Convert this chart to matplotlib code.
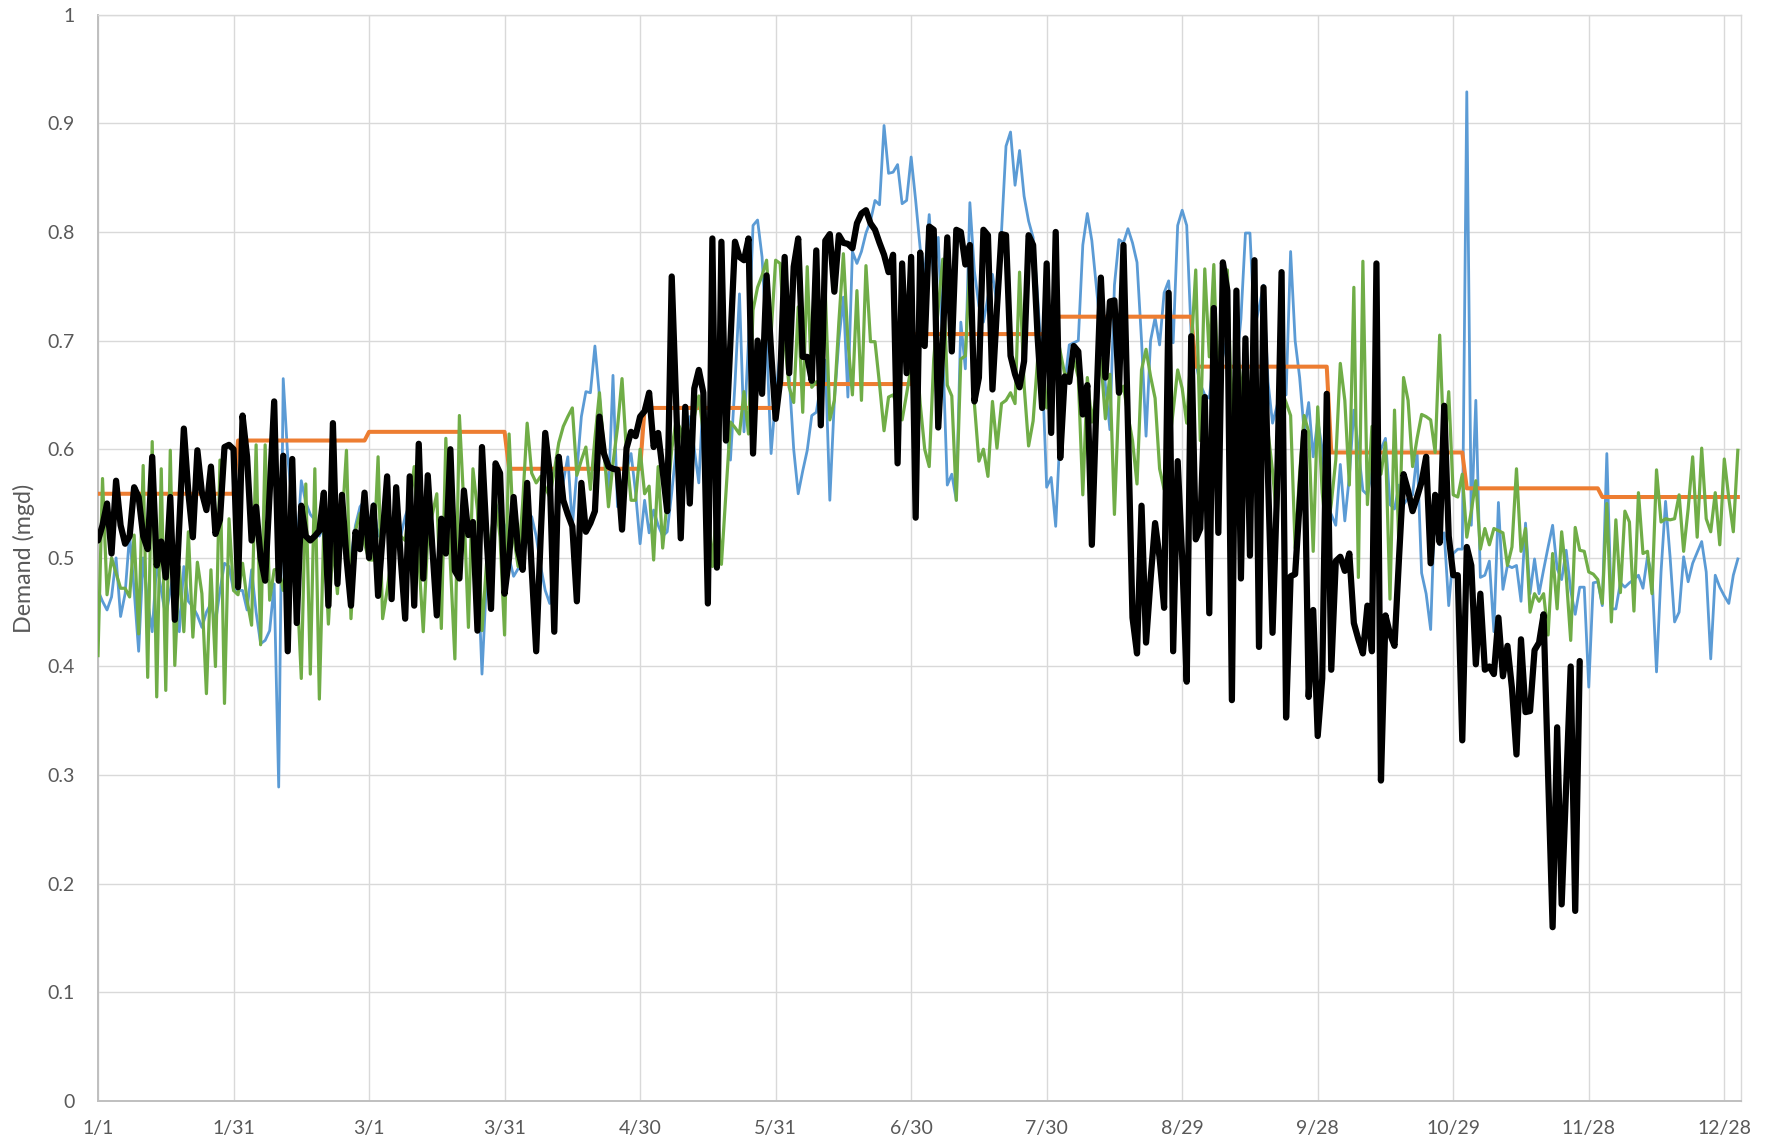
import numpy as np
import matplotlib
matplotlib.use("Agg")
import matplotlib.pyplot as plt

# ---------------- data ----------------
x_tick_labels = ['1/1', '1/31', '3/1', '3/31', '4/30', '5/31', '6/30', '7/30',
                 '8/29', '9/28', '10/29', '11/28', '12/28']
y_tick_labels = ['0', '0.1', '0.2', '0.3', '0.4', '0.5', '0.6', '0.7', '0.8', '0.9', '1']

# monthly average (orange) and number of daily points in each month
monthly_avg = [0.559, 0.608, 0.616, 0.582, 0.638, 0.660, 0.706, 0.722, 0.676, 0.597, 0.564, 0.556]
points_per_month = [31, 29, 31, 30, 30, 30, 31, 31, 30, 30, 30, 31]

blue = [
    0.47, 0.46, 0.452, 0.464, 0.50, 0.446, 0.467, 0.522, 0.47, 0.414,
    0.50, 0.46, 0.432, 0.495, 0.47, 0.446, 0.47, 0.492, 0.432, 0.492,
    0.46, 0.455, 0.447, 0.436, 0.45, 0.458, 0.44, 0.47, 0.495, 0.492,
    0.47, 0.47, 0.47, 0.452, 0.489, 0.45, 0.421, 0.424, 0.433, 0.476,
    0.289, 0.665, 0.593, 0.55, 0.507, 0.571, 0.551, 0.54, 0.535, 0.52,
    0.53, 0.50, 0.55, 0.52, 0.53, 0.51, 0.50, 0.53, 0.547, 0.553,
    0.53, 0.55, 0.52, 0.535, 0.54, 0.50, 0.53, 0.52, 0.538, 0.55,
    0.50, 0.56, 0.52, 0.54, 0.51, 0.49, 0.495, 0.52, 0.507, 0.53,
    0.50, 0.54, 0.53, 0.52, 0.50, 0.393, 0.479, 0.52, 0.55, 0.54,
    0.53, 0.50, 0.483, 0.49, 0.498, 0.52, 0.538, 0.52, 0.492, 0.47,
    0.458, 0.50, 0.547, 0.57, 0.593, 0.529, 0.58, 0.63, 0.653, 0.652,
    0.695, 0.649, 0.60, 0.558, 0.668, 0.547, 0.57, 0.58, 0.596, 0.56,
    0.513, 0.553, 0.523, 0.544, 0.53, 0.52, 0.524, 0.56, 0.60, 0.58,
    0.61, 0.63, 0.60, 0.569, 0.652, 0.60, 0.58, 0.60, 0.65, 0.62,
    0.59, 0.66, 0.743, 0.616, 0.70, 0.806, 0.811, 0.777, 0.70, 0.596,
    0.648, 0.69, 0.734, 0.667, 0.60, 0.559, 0.58, 0.599, 0.631, 0.634,
    0.66, 0.682, 0.553, 0.645, 0.70, 0.74, 0.648, 0.782, 0.771, 0.782,
    0.799, 0.81, 0.829, 0.825, 0.898, 0.854, 0.855, 0.862, 0.826, 0.829,
    0.869, 0.829, 0.785, 0.761, 0.816, 0.754, 0.795, 0.69, 0.567, 0.577,
    0.553, 0.717, 0.674, 0.827, 0.764, 0.732, 0.717, 0.74, 0.761, 0.734,
    0.80, 0.879, 0.892, 0.843, 0.875, 0.833, 0.81, 0.795, 0.74, 0.676,
    0.565, 0.574, 0.529, 0.618, 0.66, 0.696, 0.698, 0.70, 0.788, 0.817,
    0.792, 0.75, 0.707, 0.659, 0.618, 0.751, 0.793, 0.79, 0.803, 0.79,
    0.772, 0.70, 0.612, 0.70, 0.721, 0.696, 0.744, 0.755, 0.698, 0.806,
    0.82, 0.806, 0.704, 0.68, 0.66, 0.65, 0.647, 0.685, 0.66, 0.70,
    0.68, 0.64, 0.677, 0.72, 0.799, 0.799, 0.711, 0.73, 0.751, 0.662,
    0.624, 0.64, 0.66, 0.65, 0.782, 0.70, 0.666, 0.616, 0.643, 0.593,
    0.627, 0.60, 0.549, 0.54, 0.530, 0.586, 0.534, 0.575, 0.636, 0.60,
    0.562, 0.558, 0.58, 0.61, 0.60, 0.61, 0.549, 0.545, 0.567, 0.549,
    0.555, 0.558, 0.597, 0.486, 0.467, 0.434, 0.558, 0.512, 0.523, 0.456,
    0.504, 0.508, 0.508, 0.929, 0.53, 0.645, 0.482, 0.484, 0.497, 0.432,
    0.551, 0.471, 0.493, 0.491, 0.493, 0.46, 0.532, 0.467, 0.499, 0.467,
    0.489, 0.51, 0.53, 0.49, 0.48, 0.507, 0.47, 0.448, 0.473, 0.473,
    0.381, 0.477, 0.478, 0.456, 0.596, 0.453, 0.453, 0.477, 0.473, 0.477,
    0.48, 0.484, 0.472, 0.501, 0.484, 0.395, 0.487, 0.552, 0.501, 0.441,
    0.45, 0.501, 0.478, 0.495, 0.505, 0.515, 0.487, 0.407, 0.484, 0.473,
    0.465, 0.458, 0.484, 0.499,
]

green = [
    0.41, 0.573, 0.466, 0.50, 0.486, 0.472, 0.472, 0.464, 0.521, 0.43,
    0.585, 0.39, 0.607, 0.372, 0.582, 0.378, 0.599, 0.401, 0.492, 0.432,
    0.524, 0.427, 0.496, 0.467, 0.375, 0.489, 0.40, 0.59, 0.366, 0.536,
    0.47, 0.466, 0.495, 0.461, 0.438, 0.604, 0.42, 0.604, 0.461, 0.489,
    0.49, 0.47, 0.504, 0.51, 0.48, 0.389, 0.568, 0.393, 0.582, 0.37,
    0.531, 0.439, 0.513, 0.467, 0.53, 0.599, 0.444, 0.525, 0.541, 0.513,
    0.498, 0.498, 0.593, 0.444, 0.47, 0.50, 0.524, 0.52, 0.516, 0.55,
    0.584, 0.50, 0.432, 0.519, 0.54, 0.559, 0.435, 0.61, 0.495, 0.407,
    0.631, 0.547, 0.436, 0.582, 0.544, 0.433, 0.495, 0.52, 0.553, 0.519,
    0.429, 0.614, 0.52, 0.492, 0.55, 0.624, 0.578, 0.569, 0.575, 0.565,
    0.556, 0.58, 0.606, 0.621, 0.63, 0.638, 0.576, 0.59, 0.602, 0.563,
    0.61, 0.652, 0.60, 0.547, 0.587, 0.62, 0.665, 0.596, 0.553, 0.553,
    0.60, 0.559, 0.566, 0.498, 0.584, 0.509, 0.553, 0.60, 0.627, 0.618,
    0.584, 0.61, 0.63, 0.649, 0.615, 0.55, 0.492, 0.55, 0.494, 0.56,
    0.625, 0.62, 0.614, 0.653, 0.614, 0.728, 0.749, 0.76, 0.774, 0.706,
    0.774, 0.771, 0.70, 0.657, 0.643, 0.731, 0.634, 0.768, 0.657, 0.662,
    0.663, 0.745, 0.627, 0.645, 0.717, 0.78, 0.70, 0.65, 0.746, 0.645,
    0.769, 0.699, 0.699, 0.66, 0.617, 0.648, 0.65, 0.64, 0.627, 0.651,
    0.676, 0.70, 0.642, 0.60, 0.584, 0.683, 0.73, 0.775, 0.659, 0.649,
    0.553, 0.683, 0.686, 0.771, 0.642, 0.589, 0.60, 0.575, 0.644, 0.601,
    0.642, 0.645, 0.652, 0.642, 0.763, 0.659, 0.603, 0.626, 0.683, 0.69,
    0.638, 0.672, 0.713, 0.69, 0.669, 0.669, 0.683, 0.666, 0.558, 0.666,
    0.625, 0.65, 0.683, 0.628, 0.669, 0.54, 0.649, 0.658, 0.631, 0.608,
    0.568, 0.673, 0.692, 0.667, 0.647, 0.582, 0.563, 0.60, 0.635, 0.673,
    0.656, 0.624, 0.692, 0.765, 0.608, 0.766, 0.685, 0.77, 0.647, 0.765,
    0.765, 0.627, 0.696, 0.662, 0.627, 0.662, 0.662, 0.639, 0.627, 0.616,
    0.58, 0.532, 0.654, 0.643, 0.631, 0.509, 0.578, 0.631, 0.616, 0.506,
    0.639, 0.56, 0.52, 0.55, 0.59, 0.679, 0.645, 0.567, 0.749, 0.482,
    0.773, 0.549, 0.621, 0.60, 0.577, 0.606, 0.462, 0.636, 0.506, 0.666,
    0.645, 0.584, 0.61, 0.632, 0.63, 0.627, 0.597, 0.705, 0.597, 0.653,
    0.558, 0.556, 0.577, 0.519, 0.543, 0.571, 0.508, 0.527, 0.512, 0.527,
    0.525, 0.523, 0.493, 0.51, 0.582, 0.506, 0.527, 0.45, 0.467, 0.46,
    0.467, 0.429, 0.504, 0.453, 0.524, 0.484, 0.424, 0.528, 0.507, 0.506,
    0.487, 0.485, 0.48, 0.458, 0.55, 0.441, 0.535, 0.468, 0.543, 0.533,
    0.451, 0.56, 0.504, 0.506, 0.467, 0.581, 0.533, 0.536, 0.535, 0.536,
    0.558, 0.506, 0.545, 0.593, 0.519, 0.601, 0.536, 0.524, 0.56, 0.512,
    0.591, 0.555, 0.524, 0.599,
]

black = [
    0.516, 0.53, 0.55, 0.504, 0.571, 0.53, 0.513, 0.52, 0.565, 0.556,
    0.52, 0.508, 0.593, 0.493, 0.515, 0.482, 0.556, 0.443, 0.53, 0.619,
    0.56, 0.519, 0.599, 0.56, 0.544, 0.584, 0.522, 0.535, 0.602, 0.604,
    0.60, 0.473, 0.631, 0.593, 0.516, 0.547, 0.50, 0.479, 0.56, 0.644,
    0.479, 0.594, 0.414, 0.591, 0.44, 0.548, 0.52, 0.516, 0.52, 0.525,
    0.56, 0.456, 0.624, 0.476, 0.558, 0.50, 0.456, 0.524, 0.508, 0.56,
    0.50, 0.548, 0.465, 0.52, 0.575, 0.462, 0.565, 0.50, 0.444, 0.575,
    0.456, 0.605, 0.481, 0.576, 0.51, 0.447, 0.536, 0.504, 0.60, 0.488,
    0.481, 0.562, 0.521, 0.533, 0.433, 0.602, 0.52, 0.453, 0.587, 0.578,
    0.467, 0.50, 0.556, 0.507, 0.489, 0.569, 0.49, 0.414, 0.52, 0.615,
    0.578, 0.432, 0.593, 0.553, 0.54, 0.529, 0.46, 0.569, 0.524, 0.532,
    0.543, 0.63, 0.596, 0.584, 0.582, 0.581, 0.526, 0.601, 0.616, 0.612,
    0.63, 0.635, 0.652, 0.602, 0.615, 0.58, 0.543, 0.759, 0.64, 0.518,
    0.639, 0.55, 0.656, 0.673, 0.652, 0.458, 0.794, 0.491, 0.791, 0.608,
    0.70, 0.791, 0.777, 0.774, 0.794, 0.596, 0.70, 0.651, 0.76, 0.69,
    0.628, 0.663, 0.777, 0.67, 0.768, 0.794, 0.685, 0.685, 0.663, 0.783,
    0.622, 0.792, 0.798, 0.745, 0.797, 0.79, 0.789, 0.785, 0.808, 0.817,
    0.82, 0.808, 0.802, 0.79, 0.779, 0.763, 0.779, 0.587, 0.771, 0.67,
    0.777, 0.537, 0.781, 0.695, 0.805, 0.802, 0.62, 0.70, 0.795, 0.69,
    0.802, 0.80, 0.77, 0.788, 0.644, 0.666, 0.802, 0.797, 0.655, 0.73,
    0.798, 0.797, 0.686, 0.669, 0.657, 0.681, 0.797, 0.788, 0.703, 0.638,
    0.771, 0.615, 0.80, 0.592, 0.667, 0.662, 0.695, 0.69, 0.632, 0.659,
    0.512, 0.64, 0.758, 0.666, 0.736, 0.737, 0.652, 0.788, 0.62, 0.445,
    0.412, 0.548, 0.422, 0.48, 0.532, 0.50, 0.454, 0.744, 0.414, 0.589,
    0.50, 0.386, 0.704, 0.517, 0.527, 0.648, 0.449, 0.73, 0.523, 0.772,
    0.746, 0.369, 0.746, 0.481, 0.702, 0.502, 0.774, 0.418, 0.749, 0.574,
    0.431, 0.563, 0.763, 0.353, 0.483, 0.485, 0.55, 0.616, 0.372, 0.452,
    0.336, 0.389, 0.651, 0.397, 0.497, 0.501, 0.488, 0.504, 0.44, 0.425,
    0.412, 0.456, 0.414, 0.771, 0.295, 0.447, 0.43, 0.419, 0.50, 0.577,
    0.562, 0.543, 0.556, 0.57, 0.593, 0.495, 0.558, 0.514, 0.64, 0.52,
    0.484, 0.484, 0.332, 0.51, 0.493, 0.402, 0.467, 0.397, 0.40, 0.393,
    0.445, 0.391, 0.419, 0.38, 0.319, 0.425, 0.358, 0.359, 0.415, 0.422,
    0.448, 0.30, 0.16, 0.344, 0.181, 0.29, 0.40, 0.175, 0.405,
]

# ---------------- build series ----------------
n_points = sum(points_per_month)
orange = np.repeat(monthly_avg, points_per_month)
black_full = np.full(n_points, np.nan)
black_full[:len(black)] = black
for name, s in (('blue', blue), ('green', green)):
    if len(s) != n_points:
        raise ValueError(f"{name} has {len(s)} points, expected {n_points}")
x = np.arange(n_points)

# ---------------- figure ----------------
W, H = 1776, 1146
fig = plt.figure(figsize=(W / 100, H / 100), dpi=100)
left, right, top, bottom = 98, 1741, 14.7, 1101
ax = fig.add_axes([left / W, 1 - bottom / H, (right - left) / W, (bottom - top) / H])

FONT = ['Lato', 'DejaVu Sans']
TXT = '#595959'
GRID = '#D9D9D9'

ax.plot(x, blue, color='#5B9BD5', lw=2.0, zorder=2, solid_joinstyle='round')
ax.plot(x, orange, color='#ED7D31', lw=2.9, zorder=3)
ax.plot(x, green, color='#70AD47', lw=2.3, zorder=4, solid_joinstyle='round')
ax.plot(x, black_full, color='#000000', lw=4.5, zorder=5, solid_joinstyle='round',
        solid_capstyle='round')

ax.set_xlim(0, 363.7)
ax.set_ylim(0, 1)
ax.set_xticks(np.arange(len(x_tick_labels)) * 30)
ax.set_xticklabels(x_tick_labels, family=FONT, fontsize=14, color=TXT)
ax.set_yticks(np.linspace(0, 1, len(y_tick_labels)))
ax.set_yticklabels(y_tick_labels, family=FONT, fontsize=14, color=TXT)
ax.tick_params(axis='both', length=0)
ax.tick_params(axis='x', pad=14)
ax.tick_params(axis='y', pad=17)

ax.grid(True, color=GRID, lw=1.0, zorder=0)
ax.set_axisbelow(True)
for side in ('top', 'right'):
    ax.spines[side].set_color(GRID)
    ax.spines[side].set_linewidth(1.0)
for side in ('left', 'bottom'):
    ax.spines[side].set_color('#BFBFBF')
    ax.spines[side].set_linewidth(1.4)

ylab = fig.text(24 / W, 1 - 558 / H, 'Demand (mgd)', rotation=90,
                ha='center', va='center', family=FONT, fontsize=14, color=TXT)

# size the axis title so that it spans about the same length as in the reference
renderer = fig.canvas.get_renderer()
ext = ylab.get_window_extent(renderer)
target = 150.0
ylab.set_fontsize(14 * target / ext.height)

fig.savefig('out.png', dpi=100)
